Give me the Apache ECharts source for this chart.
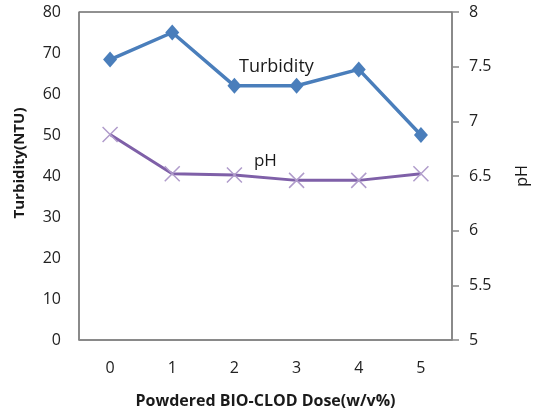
<!DOCTYPE html>
<html>
<head>
<meta charset="utf-8">
<script src="https://cdn.jsdelivr.net/npm/echarts@6/dist/echarts.min.js"></script>
<style>html,body{margin:0;padding:0;background:#fff;}#c{width:542px;height:414px;}</style>
</head>
<body>
<div id="c"></div>
<script>
var categories = ['0', '1', '2', '3', '4', '5'];
var turbidity = [68.4, 75, 62, 62, 66, 50];
var ph = [6.88, 6.52, 6.51, 6.46, 6.46, 6.52];
var leftTicks = [0, 80, 10];
var rightTicks = [5, 8, 0.5];

var FONT = '"Open Sans", "DejaVu Sans", sans-serif';
var chart = echarts.init(document.getElementById('c'));
chart.setOption({
  animation: false,
  grid: { left: 79, top: 12, right: 90, bottom: 73, show: true, borderColor: '#222', borderWidth: 1, backgroundColor: 'transparent' },
  xAxis: {
    type: 'category', data: categories, boundaryGap: true,
    name: 'Powdered BIO-CLOD Dose(w/v%)', nameLocation: 'middle', nameGap: 53,
    nameTextStyle: { fontFamily: FONT, fontWeight: 'bold', fontSize: 16, color: '#1a1a1a' },
    axisLine: { lineStyle: { color: '#888', width: 1.5 } },
    axisTick: { show: false },
    axisLabel: { fontFamily: FONT, fontSize: 16, color: '#222', margin: 20 }
  },
  yAxis: [{
    type: 'value', min: leftTicks[0], max: leftTicks[1], interval: leftTicks[2], position: 'left',
    name: 'Turbidity(NTU)', nameLocation: 'middle', nameGap: 52,
    nameTextStyle: { fontFamily: FONT, fontWeight: 'bold', fontSize: 15, color: '#1a1a1a', padding: [0, 0, 0, 26] },
    axisLine: { show: true, lineStyle: { color: '#888', width: 1.5 } },
    axisTick: { show: false },
    splitLine: { show: false },
    axisLabel: { fontFamily: FONT, fontSize: 16, color: '#222', margin: 18 }
  }, {
    type: 'value', min: rightTicks[0], max: rightTicks[1], interval: rightTicks[2], position: 'right',
    name: 'pH', nameLocation: 'middle', nameGap: 62,
    nameTextStyle: { fontFamily: FONT, fontSize: 16, color: '#1a1a1a', padding: [0, 0, 0, 0] },
    axisLine: { show: true, lineStyle: { color: '#888', width: 1.5 } },
    axisTick: { show: true, inside: false, length: 7, lineStyle: { color: '#888', width: 1.5 } },
    splitLine: { show: false },
    axisLabel: { fontFamily: FONT, fontSize: 16, color: '#222', margin: 17 }
  }],
  series: [{
    name: 'Turbidity', type: 'line', yAxisIndex: 0, data: turbidity,
    symbol: 'diamond', symbolSize: [14, 16],
    lineStyle: { color: '#4A7EBB', width: 3.5 },
    itemStyle: { color: '#4A7EBB' },
    label: { show: false },
    markPoint: {
      symbol: 'rect', symbolSize: 1, itemStyle: { color: 'transparent' },
      data: [{ coord: [2, turbidity[2]], label: { show: true, formatter: 'Turbidity', position: 'inside', offset: [42, -19], fontFamily: FONT, fontSize: 18, color: '#1a1a1a' } }]
    }
  }, {
    name: 'pH', type: 'line', yAxisIndex: 1, data: ph,
    symbol: 'path://M0,0L10,10M10,0L0,10', symbolSize: 15,
    lineStyle: { color: '#7F60A8', width: 3 },
    itemStyle: { color: 'transparent', borderColor: '#B09CCB', borderWidth: 1.5 },
    markPoint: {
      symbol: 'rect', symbolSize: 1, itemStyle: { color: 'transparent' },
      data: [{ coord: [2, ph[2]], label: { show: true, formatter: 'pH', position: 'inside', offset: [31, -14], fontFamily: FONT, fontSize: 17, color: '#1a1a1a' } }]
    }
  }]
});
</script>
</body>
</html>
